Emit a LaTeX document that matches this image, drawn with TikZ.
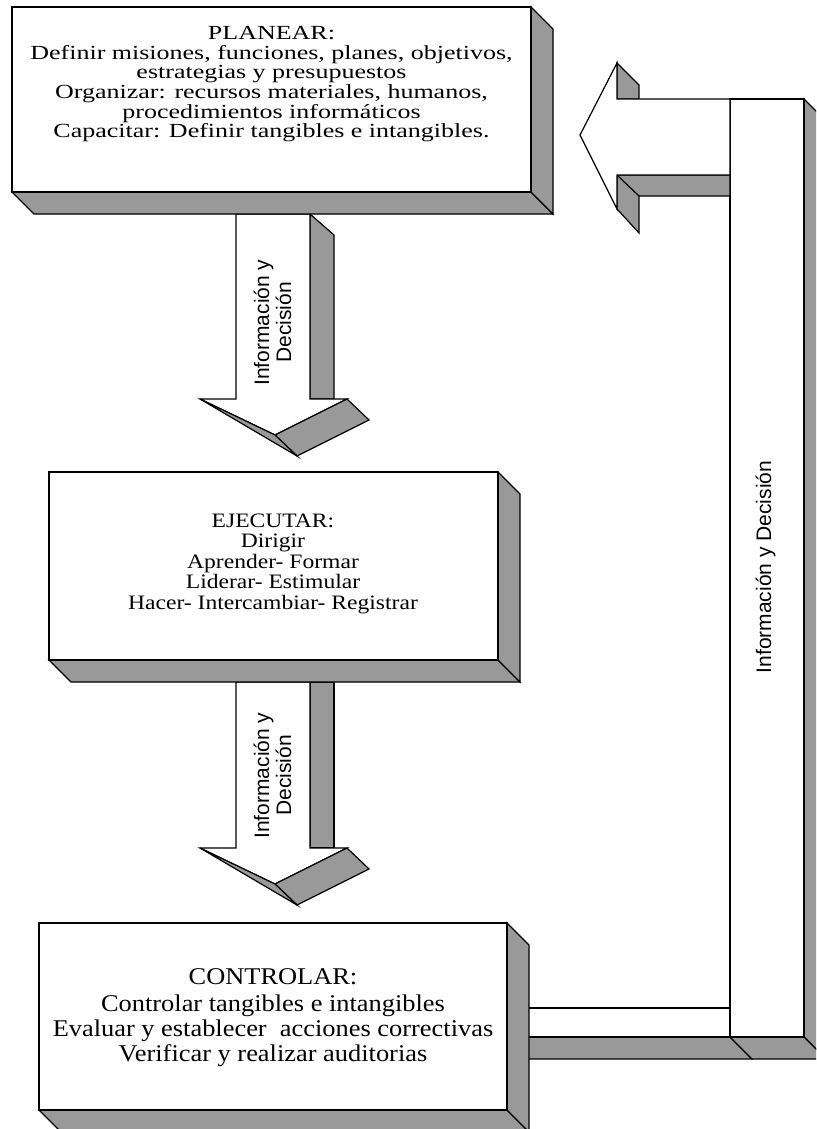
\documentclass[tikz,border=0pt]{standalone}
\usepackage{fontspec}
\setmainfont{Liberation Serif}
\newfontfamily\planfont[FakeStretch=1.3]{Liberation Serif}
\newfontfamily\ejecfont[FakeStretch=1.15]{Liberation Serif}
\newfontfamily\ctrlfont[FakeStretch=1.1]{Liberation Serif}
\newfontfamily\labelfont{Liberation Sans}
\definecolor{bevel}{RGB}{153,153,153}

% front face (x1,y1)-(x2,y2) of a raised box with its bottom and right faces
\newcommand\bevelbox[4]{%
  \draw[side] (#1,#4) -- (#3,#4) -- (#3+22,#4+22) -- (#1+22,#4+22) -- cycle;
  \draw[side] (#3,#2) -- (#3+22,#2+22) -- (#3+22,#4+22) -- (#3,#4) -- cycle;
  \draw[front] (#1,#2) rectangle (#3,#4);
}

\begin{document}
\begin{tikzpicture}[x=1pt,y=-1pt,
  front/.style={fill=white,draw=black,line width=1.2pt,line join=miter},
  side/.style={fill=bevel,draw=black,line width=1.2pt,line join=miter},
  edge/.style={draw=black,line width=1.2pt},
  plantext/.style={inner sep=0pt,anchor=base,font=\planfont\fontsize{20}{20}\selectfont},
  ejectext/.style={inner sep=0pt,anchor=base,font=\ejecfont\fontsize{20.5}{20.5}\selectfont},
  ctrltext/.style={inner sep=0pt,anchor=base,font=\ctrlfont\fontsize{24}{24}\selectfont},
  flowlabel/.style={inner sep=0pt,anchor=base,rotate=90,font=\labelfont\fontsize{21}{21}\selectfont}]

\useasboundingbox (0,0) rectangle (816,1129);
\clip (0,0) rectangle (816,1129);

% ---- feedback arrow: bottom arm, column and left-pointing head ----
\draw[side] (500,1037) -- (730,1037) -- (752,1059) -- (500,1059) -- cycle;
\draw[front] (500,1008) rectangle (730,1037);
\draw[side] (804,99) -- (826,121) -- (826,1059) -- (804,1037) -- cycle;
\draw[side] (730,1037) -- (804,1037) -- (826,1059) -- (752,1059) -- cycle;
\draw[front] (730,99) rectangle (804,1037);
\draw[side] (617,63) -- (639,85) -- (639,99) -- (617,99) -- cycle;
\draw[side] (617,175) -- (730,175) -- (730,196) -- (639,196) -- (639,233) -- (617,209) -- cycle;
\draw[edge] (617,175) -- (639,196);
\draw[front] (580,135) -- (617,63) -- (617,99) -- (730,99) -- (730,175) -- (617,175) -- (617,209) -- cycle;

% ---- arrow PLANEAR -> EJECUTAR ----
\draw[side] (310,214) -- (334,235) -- (334,399) -- (310,399) -- cycle;
\draw[front] (236,214) -- (236,399) -- (200,399) -- (275,435) -- (347,399) -- (310,399) -- (310,214) -- cycle;
\draw[side] (275,435) -- (347,399) -- (369,420) -- (297,456) -- cycle;
\draw[side] (200,399) -- (297,456) -- (275,435) -- cycle;

% ---- arrow EJECUTAR -> CONTROLAR ----
\draw[side] (310,682) -- (334,682) -- (334,848) -- (310,848) -- cycle;
\draw[front] (236,682) -- (236,848) -- (200,848) -- (275,884) -- (347,848) -- (310,848) -- (310,682) -- cycle;
\draw[side] (275,884) -- (347,848) -- (369,869) -- (297,905) -- cycle;
\draw[side] (200,848) -- (297,905) -- (275,884) -- cycle;

% ---- the three boxes ----
\bevelbox{12}{7}{531}{192}
\bevelbox{49}{472}{498}{660}
\bevelbox{39}{923}{507}{1110}

% ---- box texts ----
\node[plantext] (plan0) at (271.5,39.5) {PLANEAR:};
\node[plantext] (plan1) at (271.5,59.5) {Definir misiones, funciones, planes, objetivos,};
\node[plantext] (plan2) at (271.5,79) {estrategias y presupuestos};
\node[plantext] (plan3) at (271.5,98.5) {Organizar: recursos materiales, humanos,};
\node[plantext] (plan4) at (271.5,118) {procedimientos informáticos};
\node[plantext] (plan5) at (271.5,137.5) {Capacitar: Definir tangibles e intangibles.};

\node[ejectext] (ejec0) at (273,527) {EJECUTAR:};
\node[ejectext] (ejec1) at (273,547.5) {Dirigir};
\node[ejectext] (ejec2) at (273,568) {Aprender- Formar};
\node[ejectext] (ejec3) at (273,588.5) {Liderar- Estimular};
\node[ejectext] (ejec4) at (273,609) {Hacer- Intercambiar- Registrar};

\node[ctrltext] (ctrl0) at (273,984) {CONTROLAR:};
\node[ctrltext] (ctrl1) at (273,1011) {Controlar tangibles e intangibles};
\node[ctrltext] (ctrl2) at (273,1036) {Evaluar y establecer\ \ acciones correctivas};
\node[ctrltext] (ctrl3) at (273,1061) {Verificar y realizar auditorias};

% ---- arrow labels ----
\node[flowlabel] (lab1a) at (269,322.5) {Información y};
\node[flowlabel] (lab1b) at (291,322.5) {Decisión};
\node[flowlabel] (lab2a) at (269,775.5) {Información y};
\node[flowlabel] (lab2b) at (291,775.5) {Decisión};
\node[flowlabel] (lab3) at (771,567) {Información y Decisión};
\end{tikzpicture}
\end{document}
